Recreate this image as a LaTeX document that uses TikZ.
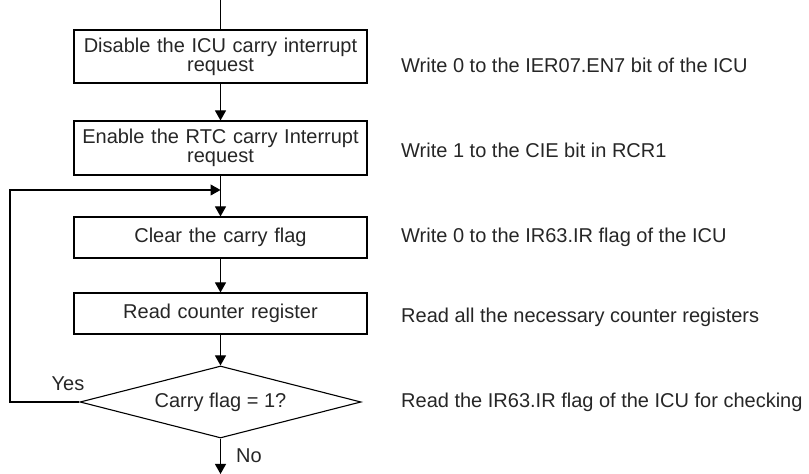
\documentclass[tikz,border=0pt]{standalone}
\usepackage{fontspec}
\setmainfont{Liberation Sans}
\usetikzlibrary{shapes.geometric,arrows.meta}
\begin{document}
\begin{tikzpicture}[x=1pt,y=1pt,
  every node/.style={font=\fontsize{20}{19}\selectfont, text=black!85},
  stepbox/.style={draw, line width=1.1pt, minimum width=293pt, inner sep=0pt, align=center, text width=290pt},
  decide/.style={draw, diamond, aspect=3.9, line width=1.1pt, minimum width=281pt, minimum height=72pt, inner sep=0pt},
  note/.style={anchor=base west, inner sep=0pt},
  flow/.style={line width=1.1pt, -{Triangle[length=10pt,width=11pt]}},
  plain/.style={line width=1.1pt}]
\useasboundingbox (0,0) rectangle (809,474);
\node[stepbox, minimum height=53pt] (b1) at (220.5,417.5) {Disable the ICU carry interrupt\\request};
\node[stepbox, minimum height=54pt] (b2) at (220.5,326) {Enable the RTC carry Interrupt\\request};
\node[stepbox, minimum height=41pt] (b3) at (220.5,236.5) {Clear the carry flag};
\node[stepbox, minimum height=41pt] (b4) at (220.5,160.5) {Read counter register};
\node[decide] (d) at (220.5,72) {Carry flag = 1?};
\coordinate (top) at (220.5,474);
\coordinate (bot) at (220.5,0);
\coordinate (join) at (220.5,284);
\coordinate (lb) at (10,72);
\coordinate (lt) at (10,284);
\draw[plain] (top) -- (b1.north);
\draw[flow] (b1) -- (b2);
\draw[flow] (b2) -- (b3);
\draw[flow] (b3) -- (b4);
\draw[flow] (b4) -- (d);
\draw[flow] (d.south) -- (bot);
\draw[flow] (d.west) -- (lb) -- (lt) -- (join);
\node (yes) at (68,90) {Yes};
\node[anchor=base west, inner sep=0pt] (no) at (236,11) {No};
\node[note] (n1) at (401,401) {Write 0 to the IER07.EN7 bit of the ICU};
\node[note] (n2) at (401,316) {Write 1 to the CIE bit in RCR1};
\node[note] (n3) at (401,231) {Write 0 to the IR63.IR flag of the ICU};
\node[note] (n4) at (401,151) {Read all the necessary counter registers};
\node[note] (n5) at (401,66) {Read the IR63.IR flag of the ICU for checking};
\end{tikzpicture}
\end{document}
